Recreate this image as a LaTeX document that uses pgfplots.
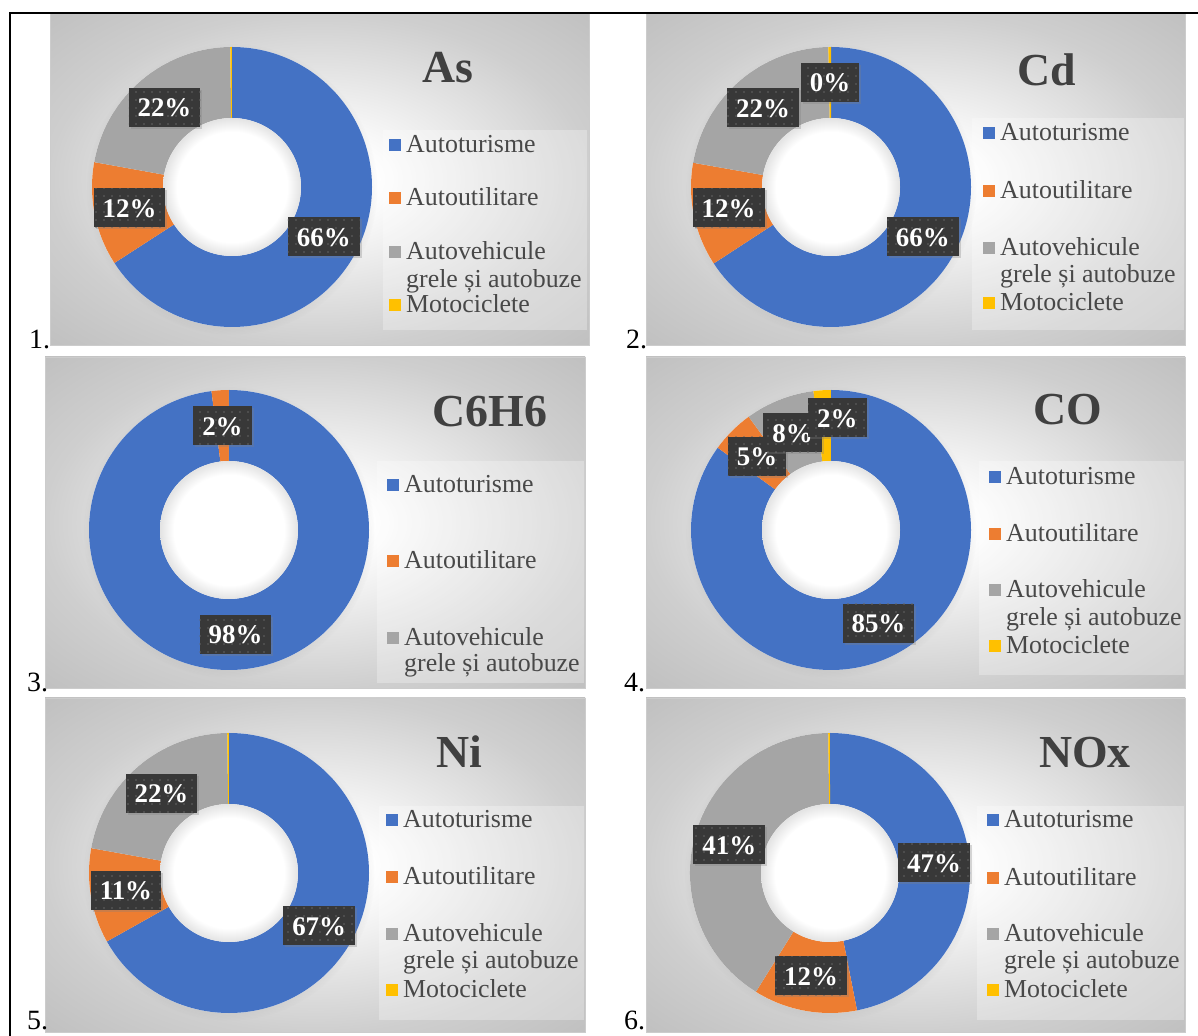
\documentclass[border=0pt]{standalone}
\usepackage{pgfplots}
\pgfplotsset{compat=1.18}
\usepackage{pgfplotstable}
\usepackage{fontspec}
\setmainfont{Liberation Serif}
\usetikzlibrary{patterns.meta,shadows}

% Office palette
\definecolor{cAuto}{HTML}{4472C4}
\definecolor{cUtil}{HTML}{ED7D31}
\definecolor{cGrele}{HTML}{A5A5A5}
\definecolor{cMoto}{HTML}{FFC000}
\colorlet{slice0}{cAuto}
\colorlet{slice1}{cUtil}
\colorlet{slice2}{cGrele}
\colorlet{slice3}{cMoto}
\definecolor{titlegray}{HTML}{404040}
\definecolor{legendgray}{HTML}{484848}
\definecolor{tagbg}{HTML}{383838}

\pgfdeclareradialshading{panelbg}{\pgfpoint{0bp}{0bp}}{%
  color(0bp)=(white); color(5bp)=(white); color(25bp)=(white!81!black);
  color(36bp)=(white!75!black); color(50bp)=(white!75!black)}
\pgfdeclareradialshading{holebg}{\pgfpoint{0bp}{0bp}}{%
  color(0bp)=(white); color(20bp)=(white); color(25bp)=(white!89!black);
  color(50bp)=(white!89!black)}

% share = percentage of emissions, dx/dy = nudge of the value tag, lab = print tag
\pgfplotstableread{
share dx dy lab
66   0 0 1
12   0 0 1
22   0 0 1
0.2  0 0 0
}\tabAs
\pgfplotstableread{
share dx dy lab
66   0 0 1
12   0 0 1
22   0 0 1
0.3  0 0 1
}\tabCd
\pgfplotstableread{
share dx dy lab
98   0 0 1
2    0 0 1
0    0 0 0
}\tabBenz
\pgfplotstableread{
share dx dy lab
85   0 0 1
5    0 0 1
8    0 0 1
2    13 8 1
}\tabCO
\pgfplotstableread{
share dx dy lab
67   0 0 1
11   0 0 1
22   0 0 1
0.2  0 0 0
}\tabNi
\pgfplotstableread{
share dx dy lab
47   0 0 1
12   0 0 1
41   0 0 1
0.2  0 0 0
}\tabNOx

\tikzset{
  tag/.style={fill=tagbg, text=white, inner xsep=9bp, inner ysep=0bp,
    minimum height=39bp, text height=19bp, text depth=0bp,
    font=\fontsize{27}{30}\selectfont\bfseries,
    drop shadow={shadow xshift=2bp, shadow yshift=-2bp, opacity=0.3},
    postaction={pattern={Dots[distance=8bp,radius=0.8bp]}, pattern color=white!22!tagbg}},
}

\pgfplotsset{donutaxis/.style={anchor=center, x=1bp, y=1bp,
  xmin=-150, xmax=150, ymin=-150, ymax=150, hide axis, clip=false}}

% ring of slices, clockwise from 12 o'clock, outer radius 140, hole 69
\newcommand\donut[1]{%
  \pgfplotstablegetrowsof{#1}%
  \pgfmathtruncatemacro\lastrow{\pgfplotsretval-1}%
  \gdef\dtotal{0}%
  \foreach \i in {0,...,\lastrow}{%
    \pgfplotstablegetelem{\i}{share}\of{#1}%
    \pgfmathsetmacro\tmp{\dtotal+\pgfplotsretval}%
    \xdef\dtotal{\tmp}}%
  \fill[white, circular drop shadow={shadow scale=1.04, shadow xshift=0bp,
    shadow yshift=-2bp, opacity=0.22}] (axis cs:0,0) circle[radius=140bp];
  \gdef\dang{90}%
  \foreach \i in {0,...,\lastrow}{%
    \pgfplotstablegetelem{\i}{share}\of{#1}\let\dval\pgfplotsretval
    \pgfmathsetmacro\dend{\dang-\dval/\dtotal*360}%
    \pgfmathsetmacro\ax{140*cos(\dang)}\pgfmathsetmacro\ay{140*sin(\dang)}%
    \pgfmathsetmacro\bx{69*cos(\dend)}\pgfmathsetmacro\by{69*sin(\dend)}%
    \edef\doslice{\noexpand\fill[slice\i] (axis cs:\ax,\ay)
      arc[start angle=\dang, end angle=\dend, radius=140bp]
      -- (axis cs:\bx,\by)
      arc[start angle=\dend, end angle=\dang, radius=69bp] -- cycle;}%
    \doslice
    \xdef\dang{\dend}}%
  \shade[shading=holebg] (axis cs:0,0) circle[radius=69bp];
  \gdef\dang{90}%
  \foreach \i in {0,...,\lastrow}{%
    \pgfplotstablegetelem{\i}{share}\of{#1}\let\dval\pgfplotsretval
    \pgfplotstablegetelem{\i}{dx}\of{#1}\let\ddx\pgfplotsretval
    \pgfplotstablegetelem{\i}{dy}\of{#1}\let\ddy\pgfplotsretval
    \pgfplotstablegetelem{\i}{lab}\of{#1}\let\dlab\pgfplotsretval
    \pgfmathsetmacro\dend{\dang-\dval/\dtotal*360}%
    \pgfmathsetmacro\lx{104.5*cos((\dang+\dend)/2)+\ddx}%
    \pgfmathsetmacro\ly{104.5*sin((\dang+\dend)/2)+\ddy}%
    \pgfmathtruncatemacro\pct{round(\dval)}%
    \ifnum\dlab=1
      \edef\dolabel{\noexpand\node[tag] at (axis cs:\lx,\ly) {\pct\noexpand\%};}%
      \dolabel
    \fi
    \xdef\dang{\dend}}%
}

\newcommand\legfont{\fontsize{26}{28}\selectfont}
\newcommand\panel[4]{\shade[shading=panelbg, draw=white!80!black, line width=0.8bp] (#1,#2) rectangle (#3,#4);}
\newcommand\legbox[4]{\fill[white, opacity=0.28] (#1,#2) rectangle (#3,#4);}
\newcommand\legitem[4]{%
  \fill[#3] ({#1-17.5},{#2+2}) rectangle ({#1-5.5},{#2+14});
  \node[anchor=base west, inner sep=0pt, font=\legfont, text=legendgray] at (#1,#2) {#4};}
\newcommand\legline[3]{\node[anchor=base west, inner sep=0pt, font=\legfont, text=legendgray] at (#1,#2) {#3};}
\newcommand\charttitle[3]{\node[anchor=base, inner sep=0pt, font=\fontsize{46}{50}\selectfont\bfseries, text=titlegray] at (#1,#2) {#3};}
\newcommand\cellno[3]{\node[anchor=base west, inner sep=0pt, font=\fontsize{28}{30}\selectfont] at (#1,#2) {#3};}

\begin{document}
\begin{tikzpicture}[x=1bp, y=1bp]
\fill[white] (0,0) rectangle (1198,1036);

% chart areas
\panel{50}{691}{589}{1023}
\panel{646}{691}{1185}{1023}
\panel{45}{348}{585}{679}
\panel{646}{348}{1185}{679}
\panel{45}{4}{585}{338}
\panel{646}{4}{1185}{338}

% legend areas
\legbox{383}{706}{587}{906}
\legbox{972}{706}{1184}{918}
\legbox{377}{353}{584}{575}
\legbox{979}{361}{1184}{575}
\legbox{379}{16}{584}{230}
\legbox{977}{16}{1184}{230}

\begin{axis}[donutaxis, at={(232,849)}]
  \donut{\tabAs}
\end{axis}
\begin{axis}[donutaxis, at={(831,849)}]
  \donut{\tabCd}
\end{axis}
\begin{axis}[donutaxis, at={(229,506)}]
  \donut{\tabBenz}
\end{axis}
\begin{axis}[donutaxis, at={(831,506)}]
  \donut{\tabCO}
\end{axis}
\begin{axis}[donutaxis, at={(229,163)}]
  \donut{\tabNi}
\end{axis}
\begin{axis}[donutaxis, at={(830,163)}]
  \donut{\tabNOx}
\end{axis}

% titles
\charttitle{448}{953}{As}
\charttitle{1047}{950}{Cd}
\charttitle{490}{609}{C6H6}
\charttitle{1068}{611}{CO}
\charttitle{459}{268}{Ni}
\charttitle{1085}{268}{NOx}

% legends
\legitem{406}{883}{cAuto}{Autoturisme}
\legitem{406}{830}{cUtil}{Autoutilitare}
\legitem{406}{776}{cGrele}{Autovehicule}
\legline{406}{748}{grele și autobuze}
\legitem{406}{723}{cMoto}{Motociclete}

\legitem{1000}{895}{cAuto}{Autoturisme}
\legitem{1000}{837}{cUtil}{Autoutilitare}
\legitem{1000}{780}{cGrele}{Autovehicule}
\legline{1000}{753}{grele și autobuze}
\legitem{1000}{725}{cMoto}{Motociclete}

\legitem{404}{543}{cAuto}{Autoturisme}
\legitem{404}{467}{cUtil}{Autoutilitare}
\legitem{404}{390}{cGrele}{Autovehicule}
\legline{404}{364}{grele și autobuze}

\legitem{1006}{551}{cAuto}{Autoturisme}
\legitem{1006}{494}{cUtil}{Autoutilitare}
\legitem{1006}{438}{cGrele}{Autovehicule}
\legline{1006}{410}{grele și autobuze}
\legitem{1006}{382}{cMoto}{Motociclete}

\legitem{403}{208}{cAuto}{Autoturisme}
\legitem{403}{151}{cUtil}{Autoutilitare}
\legitem{403}{94}{cGrele}{Autovehicule}
\legline{403}{67}{grele și autobuze}
\legitem{403}{38}{cMoto}{Motociclete}

\legitem{1004}{208}{cAuto}{Autoturisme}
\legitem{1004}{150}{cUtil}{Autoutilitare}
\legitem{1004}{94}{cGrele}{Autovehicule}
\legline{1004}{67}{grele și autobuze}
\legitem{1004}{38}{cMoto}{Motociclete}

% cell numbers
\cellno{29}{687}{1.}
\cellno{626}{687}{2.}
\cellno{27}{344}{3.}
\cellno{624}{344}{4.}
\cellno{27}{6}{5.}
\cellno{624}{6}{6.}

% table frame
\draw[line width=2bp] (9.5,0) -- (9.5,1022.5) -- (1198,1022.5);

\pgfresetboundingbox
\useasboundingbox (0,0) rectangle (1198,1036);
\end{tikzpicture}
\end{document}
